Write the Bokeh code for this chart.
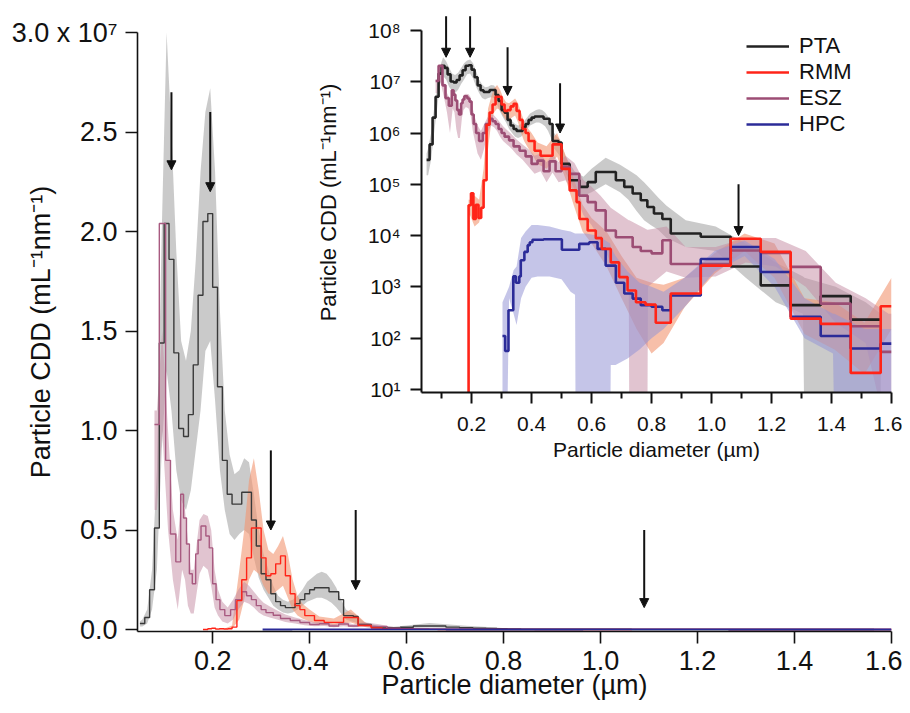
from bokeh.plotting import figure
from bokeh.models import (Range1d, FixedTicker, CustomJSTickFormatter, Arrow, NormalHead,
                          ColumnDataSource, Legend, LegendItem)
from bokeh.layouts import column
from bokeh.embed import file_html
from bokeh.resources import INLINE

FONT = "Liberation Sans"

# ---------------- data (particle CDD, mL^-1 nm^-1) ----------------
pta_edges = [0.05, 0.06, 0.07, 0.08, 0.09, 0.10, 0.11, 0.12, 0.13, 0.14, 0.15, 0.16, 0.17, 0.18, 0.19,
             0.20, 0.21, 0.22, 0.23, 0.24, 0.25, 0.26, 0.27, 0.28, 0.29, 0.30, 0.31, 0.32, 0.33, 0.34,
             0.35, 0.36, 0.37, 0.38, 0.39, 0.40, 0.41, 0.42, 0.43, 0.44, 0.45, 0.46, 0.47, 0.48, 0.49,
             0.50, 0.527, 0.56, 0.587, 0.614, 0.681, 0.709, 0.737, 0.764, 0.786, 0.808, 0.836, 0.864,
             0.964, 1.064, 1.164, 1.264, 1.364, 1.464, 1.564]
pta_vals = [3.0e5, 6.0e5, 2.0e6, 5.1e6, 1.44e7, 2.04e7, 1.86e7, 1.39e7, 1.01e7, 9.7e6,
            1.08e7, 1.33e7, 1.68e7, 2.05e7, 2.09e7, 1.72e7, 1.22e7, 8.5e6, 6.8e6, 6.3e6,
            6.3e6, 6.9e6, 6.9e6, 5.5e6, 4.2e6, 2.8e6, 2.5e6, 1.8e6, 1.4e6, 1.2e6,
            1.1e6, 1.1e6, 1.3e6, 1.5e6, 1.8e6, 2.0e6, 2.1e6, 2.1e6, 2.1e6, 1.9e6,
            1.9e6, 1.5e6, 7.0e5, 7.0e5, 6.5e5,
            2.5e5, 1.2e5, 8.9e4, 1.1e5, 1.74e5, 1.2e5, 8.9e4, 6.6e4, 4.9e4, 3.6e4,
            2.7e4, 2.1e4, 1.1e4, 9.5e3, 2.5e3, 1.07e3, 4.4e2, 6.6e2, 2.3e2]
pta_band_x = [0.05, 0.055, 0.065, 0.075, 0.085, 0.095, 0.105, 0.115, 0.125, 0.135,
              0.145, 0.155, 0.165, 0.175, 0.185, 0.195, 0.205, 0.215, 0.225, 0.235,
              0.245, 0.255, 0.265, 0.275, 0.285, 0.295, 0.305, 0.315, 0.325, 0.335,
              0.345, 0.355, 0.365, 0.375, 0.385, 0.395, 0.405, 0.415, 0.425, 0.435,
              0.445, 0.455, 0.465, 0.475, 0.485, 0.495,
              0.513, 0.543, 0.573, 0.60, 0.647, 0.695, 0.723, 0.75, 0.775, 0.797,
              0.822, 0.85, 0.914, 1.014, 1.114, 1.214, 1.305, 1.31, 1.414, 1.514, 1.564]
pta_band_lo = [1.5e5, 1.5e5, 3e5, 1.0e6, 3.0e6, 9e6, 1.3e7, 1.1e7, 8e6, 6.5e6,
               6e6, 7e6, 9e6, 1.1e7, 1.4e7, 1.45e7, 1.15e7, 8e6, 6e6, 4.8e6,
               4.5e6, 4.8e6, 5e6, 4.8e6, 3.6e6, 2.6e6, 2e6, 1.6e6, 1.2e6, 1.0e6,
               8.5e5, 8e5, 8.5e5, 1.0e6, 1.2e6, 1.4e6, 1.5e6, 1.6e6, 1.6e6, 1.5e6,
               1.35e6, 1.1e6, 8e5, 5e5, 4.2e5, 3.5e5,
               1.7e5, 8e4, 6e4, 7e4, 1.0e5, 7e4, 5e4, 3e4, 2e4, 1.6e4,
               1.3e4, 9e3, 6e3, 5e3, 1.5e3, 5e2, 3e2, 1, 1, 1, 1]
pta_band_hi = [4e5, 5e5, 1.0e6, 3.0e6, 8e6, 2.0e7, 3.0e7, 2.5e7, 1.9e7, 1.45e7,
               1.35e7, 1.5e7, 1.85e7, 2.3e7, 2.6e7, 2.72e7, 2.3e7, 1.6e7, 1.1e7, 8.8e6,
               7.8e6, 8e6, 8.6e6, 8.4e6, 6.8e6, 5e6, 3.8e6, 3e6, 2.2e6, 1.7e6,
               1.5e6, 1.4e6, 1.5e6, 1.7e6, 2.0e6, 2.4e6, 2.6e6, 2.8e6, 2.9e6, 2.8e6,
               2.5e6, 2.1e6, 1.5e6, 1.0e6, 8.5e5, 7.5e5,
               3.5e5, 1.8e5, 1.4e5, 2e5, 3.3e5, 2.4e5, 1.9e5, 1.5e5, 1.1e5, 8e4,
               5.5e4, 3.8e4, 2e4, 1.5e4, 7e3, 3e3, 1.6e3, 1.5e3, 1.0e3, 5e2, 3e2]

rmm_edges = [0.18, 0.19, 0.198, 0.206, 0.214, 0.223, 0.232, 0.24, 0.25, 0.26,
             0.27, 0.28, 0.30, 0.31, 0.32, 0.33, 0.34, 0.35, 0.36, 0.37,
             0.38, 0.39, 0.41, 0.43, 0.47, 0.50, 0.527, 0.55, 0.56, 0.587,
             0.614, 0.634, 0.664, 0.692, 0.72, 0.748, 0.78, 0.814, 0.864, 0.964,
             1.064, 1.164, 1.264, 1.364, 1.464, 1.564, 1.60]
rmm_vals = [0.0, 3.9e4, 6.7e4, 2.1e4, 4.0e4, 2.2e4, 3.5e4, 1.2e5, 1.45e6, 2.5e6,
            3.6e6, 5.1e6, 3.6e6, 2.7e6, 2.8e6, 3.3e6, 3.7e6, 2.7e6, 1.8e6, 1.2e6,
            1.0e6, 7.0e5, 4.5e5, 3.6e5, 6.0e5, 2.0e5, 7.6e4, 4.5e4, 2.1e4, 1.26e4,
            8.9e3, 5.5e3, 3.0e3, 1.55e3, 8.5e2, 5.0e2, 4.5e2, 2.0e2, 7.4e2, 2.6e3,
            8.7e3, 4.8e3, 2.4e2, 1.9e2, 2.1e1, 4.2e2]
rmm_band_x = [0.19, 0.195, 0.21, 0.225, 0.24, 0.255, 0.265, 0.275, 0.285, 0.295,
              0.305, 0.315, 0.325, 0.335, 0.345, 0.355, 0.365, 0.375, 0.385, 0.40,
              0.42, 0.45, 0.485, 0.515, 0.54, 0.57, 0.60, 0.65, 0.70, 0.75,
              0.80, 0.84, 0.91, 1.01, 1.11, 1.21, 1.31, 1.41, 1.51, 1.60]
rmm_band_lo = [2.5e4, 2.5e4, 1.5e4, 1.8e4, 4e4, 5e5, 1.5e6, 2.5e6, 3e6, 2.8e6,
               2.2e6, 1.8e6, 1.8e6, 2e6, 2.2e6, 1.6e6, 1.0e6, 7e5, 5.5e5, 4e5,
               2.5e5, 2e5, 3.5e5, 1.2e5, 4e4, 1.2e4, 7e3, 2.5e3, 6e2, 1.5e2,
               5e1, 8e1, 4e2, 1.8e3, 5e3, 1.5e3, 1.2e2, 6e1, 2e1, 1.5e2]
rmm_band_hi = [5e4, 5e4, 6e4, 5e4, 2e5, 3e6, 5e6, 7.5e6, 8.6e6, 7e6,
               5e6, 4e6, 3.8e6, 4.2e6, 4.7e6, 3.8e6, 2.5e6, 1.7e6, 1.3e6, 1.0e6,
               6.5e5, 5.5e5, 1.0e6, 3.5e5, 1.3e5, 4e4, 2.2e4, 1.2e4, 4e3, 1.5e3,
               1.2e3, 1.1e3, 1.5e3, 4.5e3, 1.1e4, 7e3, 6e2, 5e2, 2e2, 1.5e3]

esz_edges = [0.08, 0.09, 0.103, 0.113, 0.124, 0.134, 0.14, 0.146, 0.152, 0.158,
             0.165, 0.17, 0.176, 0.186, 0.193, 0.20, 0.207, 0.215, 0.225, 0.237,
             0.247, 0.26, 0.27, 0.28, 0.29, 0.30, 0.31, 0.325, 0.34, 0.36,
             0.38, 0.40, 0.42, 0.44, 0.46, 0.48, 0.50,
             0.527, 0.559, 0.587, 0.614, 0.647, 0.681, 0.737, 0.764, 0.80, 0.836,
             0.864, 0.964, 1.064, 1.164, 1.264, 1.364, 1.464, 1.564, 1.60]
esz_vals = [1.03e7, 2.04e7, 8.5e6, 4.8e6, 3.4e6, 6.8e6, 5.6e6, 4.3e6, 2.8e6, 2.3e6,
            3.8e6, 4.5e6, 5.2e6, 4.7e6, 4.1e6, 2.3e6, 1.5e6, 1.0e6, 7.0e5, 1.0e6,
            1.5e6, 1.9e6, 1.7e6, 1.5e6, 1.2e6, 1.0e6, 8.5e5, 7.2e5, 5.5e5, 4.5e5,
            3.5e5, 2.5e5, 2.9e5, 1.8e5, 2.8e5, 1.8e5,
            2.2e5, 1.6e5, 6.0e4, 4.5e4, 3.1e4, 1.26e4, 9.3e3, 6.0e3, 5.0e3, 4.5e3,
            8.1e3, 2.8e3, 2.8e3, 5.1e3, 4.6e3, 2.45e3, 4.7e2, 1.7e2, 5.4e1]
esz_band_x = [0.08, 0.085, 0.096, 0.108, 0.118, 0.128, 0.137, 0.143, 0.149, 0.155,
              0.161, 0.168, 0.173, 0.181, 0.19, 0.197, 0.204, 0.211, 0.22, 0.231,
              0.242, 0.253, 0.265, 0.275, 0.285, 0.295, 0.305, 0.318, 0.333, 0.35,
              0.37, 0.39, 0.41, 0.43, 0.45, 0.47, 0.49, 0.513, 0.543, 0.573,
              0.60, 0.63, 0.664, 0.70, 0.724, 0.726, 0.786, 0.788, 0.85, 0.914,
              1.014, 1.114, 1.214, 1.314, 1.414, 1.514, 1.59, 1.6]
esz_band_lo = [6e6, 6e6, 1.0e7, 5e6, 2.5e6, 1.0e6, 3e6, 2.5e6, 1.2e6, 8e5,
               8e5, 2e6, 2.8e6, 3.2e6, 3e6, 2.2e6, 1.1e6, 7e5, 4e5, 3e5,
               5e5, 1.0e6, 1.4e6, 1.3e6, 1.1e6, 8.5e5, 7e5, 6e5, 5e5, 3.8e5,
               3e5, 2.2e5, 1.6e5, 1.8e5, 1.1e5, 1.7e5, 1.1e5, 1.2e5, 7e4, 2.5e4,
               1.6e4, 8e3, 3e3, 1.5e3, 1.2e3, 1, 1, 1e3, 2e3, 1.5e3,
               1.6e3, 3e3, 2.5e3, 1e3, 2e2, 8e1, 1, 1]
esz_band_hi = [1.1e7, 1.1e7, 1.5e7, 1.0e7, 6e6, 4.5e6, 7e6, 6e6, 4.5e6, 3e6,
               3e6, 4.5e6, 5.5e6, 5.8e6, 5.7e6, 5e6, 3e6, 2e6, 1.4e6, 1.1e6,
               1.5e6, 2e6, 2.4e6, 2.2e6, 1.9e6, 1.6e6, 1.35e6, 1.15e6, 9.5e5, 7.5e5,
               6e5, 4.8e5, 3.6e5, 4e5, 2.7e5, 3.9e5, 2.7e5, 3.6e5, 2.6e5, 1.2e5,
               9e4, 6e4, 3.5e4, 2.5e4, 2e4, 2e4, 1.3e4, 1.3e4, 1.5e4, 6e3,
               6e3, 9e3, 9e3, 5e3, 1.2e3, 6e2, 3e2, 3e2]

hpc_edges = [0.303, 0.312, 0.323, 0.339, 0.348, 0.359, 0.364, 0.376, 0.387, 0.394,
             0.403, 0.44, 0.501, 0.559, 0.592, 0.62, 0.647, 0.681, 0.709, 0.737,
             0.764, 0.80, 0.836, 0.864, 0.964, 1.064, 1.164, 1.264, 1.364, 1.464,
             1.564, 1.60]
hpc_vals = [1.1e2, 5.6e1, 3.5e2, 1.6e3, 1.2e3, 1.6e3, 3.3e3, 4.8e3, 6.5e3, 7.4e3,
            8.3e3, 8.5e3, 5.3e3, 6.9e3, 7.4e3, 5.5e3, 2.6e3, 1.2e3, 7.4e2, 5.9e2,
            4.4e2, 4.1e2, 3.5e2, 6.8e2, 3.5e3, 6.0e3, 1.95e3, 2.6e2, 1.1e2, 6.3e1,
            7.8e1]
hpc_band_x = [0.303, 0.318, 0.325, 0.34, 0.35, 0.365, 0.38, 0.40, 0.42, 0.46,
              0.50, 0.53, 0.545, 0.547, 0.58, 0.62, 0.662, 0.664, 0.68, 0.72,
              0.76, 0.80, 0.84, 0.91, 1.01, 1.11, 1.21, 1.31, 1.405, 1.41,
              1.51, 1.6]
hpc_band_lo = [1, 1, 6e2, 3e2, 1.8e2, 6e2, 1.0e3, 1.5e3, 1.6e3, 1.6e3,
               1.4e3, 8e2, 7e2, 1, 1, 1, 1, 3e1, 3e1, 4e1,
               6e1, 1e2, 1.5e2, 4e2, 2e3, 4e3, 1e3, 1e2, 5e1, 1,
               1, 1]
hpc_band_hi = [5e2, 8e2, 1.0e3, 2.1e3, 2.5e3, 9e3, 1.2e4, 1.6e4, 1.6e4, 1.5e4,
               1.3e4, 1.2e4, 1.1e4, 1.1e4, 1.1e4, 1.0e4, 7e3, 6e3, 4e3, 2e3,
               1.2e3, 1e3, 8e2, 1.5e3, 5e3, 8e3, 3.5e3, 6e2, 3e2, 3e2,
               1.5e2, 1.5e2]

# arrows marking the size modes
arrow_x = [0.115, 0.195, 0.32, 0.495, 1.09]
main_arrow_top = [2.7e7, 2.6e7, 0.9e7, 0.6e7, 0.5e7]
main_arrow_tip = [2.31e7, 2.2e7, 0.5e7, 0.2e7, 0.11e7]
inset_arrow_top = [1.9e8, 1.9e8, 4.7e7, 9.3e6, 1.0e5]
inset_arrow_tip = [3.0e7, 3.0e7, 5.4e6, 1.0e6, 1.0e4]

main_xticks = [0.2, 0.4, 0.6, 0.8, 1.0, 1.2, 1.4, 1.6]
main_yticks = [0.0, 0.5, 1.0, 1.5, 2.0, 2.5, 3.0]
inset_xticks = [0.2, 0.4, 0.6, 0.8, 1.0, 1.2, 1.4, 1.6]
inset_xminor = [0.1, 0.3, 0.5, 0.7, 0.9, 1.1, 1.3, 1.5]
inset_yticks = [1e1, 1e2, 1e3, 1e4, 1e5, 1e6, 1e7, 1e8]

SCALE = 1e7

series = [
    ("PTA", pta_edges, pta_vals, pta_band_x, pta_band_lo, pta_band_hi, "#222222", "#3a3a3a", "#b4b4b4", 0.7),
    ("RMM", rmm_edges, rmm_vals, rmm_band_x, rmm_band_lo, rmm_band_hi, "#ff2418", "#ff2418", "#f29570", 0.6),
    ("ESZ", esz_edges, esz_vals, esz_band_x, esz_band_lo, esz_band_hi, "#9c4d74", "#a85a80", "#c48aa2", 0.5),
    ("HPC", hpc_edges, hpc_vals, hpc_band_x, hpc_band_lo, hpc_band_hi, "#2b2b98", "#2b2b98", "#9595d6", 0.55),
]


def step_xy(edges, vals, scale=1.0, floor=None):
    ys = [v / scale for v in vals] + [vals[-1] / scale]
    if floor is not None:
        ys = [max(y, floor) for y in ys]
    return list(edges), ys


def style_axis(ax, fs, lw, tick_out, lab_standoff, axlab_standoff):
    ax.axis_line_width = lw
    ax.axis_line_color = "#111111"
    ax.major_tick_line_width = lw
    ax.major_tick_line_color = "#111111"
    ax.minor_tick_line_width = lw
    ax.minor_tick_line_color = "#111111"
    ax.major_tick_in = 0
    ax.major_tick_out = tick_out
    ax.minor_tick_in = 0
    ax.minor_tick_out = 0
    ax.major_label_text_font = FONT
    ax.major_label_text_font_size = fs
    ax.major_label_text_color = "#111111"
    ax.axis_label_text_font = FONT
    ax.axis_label_text_font_size = fs
    ax.axis_label_text_font_style = "normal"
    ax.axis_label_text_color = "#111111"
    ax.major_label_standoff = lab_standoff
    ax.axis_label_standoff = axlab_standoff


TOTAL_W = 902

# ---------------- inset (log) ----------------
INSET_LEFT = 284
INSET_H = 474
pi = figure(width=TOTAL_W - INSET_LEFT, height=INSET_H, x_range=Range1d(0.033, 1.6),
            y_range=Range1d(10 ** 0.94, 10 ** 8.35), y_axis_type="log",
            output_backend="svg", toolbar_location=None,
            min_border_left=135, min_border_right=11, min_border_top=12, min_border_bottom=82)
pi.outline_line_color = None
pi.grid.visible = False
pi.background_fill_alpha = 0
pi.border_fill_alpha = 0

for name, e, v, bx, lo, hi, lc, lc_main, fc, fa in series:
    pi.varea(x=bx, y1=[max(a, 1e-3) for a in lo], y2=hi, fill_color=fc, fill_alpha=fa)

inset_lines = {}
for name in ["PTA", "ESZ", "HPC", "RMM"]:
    s = [t for t in series if t[0] == name][0]
    xs, ys = step_xy(s[1], s[2], floor=1e-3)
    inset_lines[name] = pi.step(x=xs, y=ys, mode="after", line_color=s[6], line_width=2.6)

pi.add_layout(Arrow(source=ColumnDataSource(dict(x=arrow_x, y0=inset_arrow_top, y1=inset_arrow_tip)),
                    x_start="x", y_start="y0", x_end="x", y_end="y1", line_width=2, line_color="#111111",
                    end=NormalHead(size=9, fill_color="#111111", line_color="#111111")))

style_axis(pi.xaxis[0], "21px", 2, 11, 13, 4)
pi.xaxis[0].minor_tick_out = 6
pi.xaxis[0].ticker = FixedTicker(ticks=inset_xticks, minor_ticks=inset_xminor)
pi.xaxis[0].formatter = CustomJSTickFormatter(code="return tick.toFixed(1);")
pi.xaxis[0].axis_label = "Particle diameter (µm)"

style_axis(pi.yaxis[0], "21px", 2, 11, 10, 24)
pi.yaxis[0].ticker = FixedTicker(ticks=inset_yticks, minor_ticks=[])
pi.yaxis[0].formatter = CustomJSTickFormatter(
    code="const s = ['⁰','¹','²','³','⁴','⁵','⁶','⁷','⁸','⁹']; return '10' + s[Math.round(Math.log10(tick))];")
pi.yaxis[0].axis_label = "Particle CDD (mL⁻¹nm⁻¹)"
pi.yaxis[0].axis_label_text_font_size = "22px"
pi.yaxis[0].bounds = (10 ** 0.94, 1e8)

legend = Legend(items=[LegendItem(label=n, renderers=[inset_lines[n]]) for n in ["PTA", "RMM", "ESZ", "HPC"]],
                location=(325, 255), glyph_width=43, glyph_height=26, label_height=26,
                label_standoff=10, spacing=0, padding=0, margin=0,
                border_line_alpha=0, background_fill_alpha=0,
                label_text_font=FONT, label_text_font_size="22px", label_text_color="#111111")
pi.add_layout(legend)

# ---------------- main (linear) ----------------
pm = figure(width=TOTAL_W, height=705, x_range=Range1d(0.045, 1.6), y_range=Range1d(-0.01, 3.0),
            output_backend="svg", toolbar_location=None,
            min_border_left=137, min_border_right=11, min_border_top=32, min_border_bottom=74)
pm.outline_line_color = None
pm.grid.visible = False
pm.background_fill_alpha = 0
pm.border_fill_alpha = 0

for name, e, v, bx, lo, hi, lc, lc_main, fc, fa in series:
    pm.varea(x=bx, y1=[a / SCALE for a in lo], y2=[a / SCALE for a in hi], fill_color=fc, fill_alpha=fa)
for name in ["PTA", "ESZ", "RMM", "HPC"]:
    s = [t for t in series if t[0] == name][0]
    xs, ys = step_xy(s[1], s[2], scale=SCALE)
    pm.step(x=xs, y=ys, mode="after", line_color=s[7], line_width=1.4 if name != "HPC" else 1.8)

pm.add_layout(Arrow(source=ColumnDataSource(dict(x=arrow_x, y0=[a / SCALE for a in main_arrow_top],
                                                 y1=[a / SCALE for a in main_arrow_tip])),
                    x_start="x", y_start="y0", x_end="x", y_end="y1", line_width=2, line_color="#111111",
                    end=NormalHead(size=9, fill_color="#111111", line_color="#111111")))

style_axis(pm.xaxis[0], "27px", 1.6, 12, 7, -3)
pm.xaxis[0].ticker = FixedTicker(ticks=main_xticks, minor_ticks=[])
pm.xaxis[0].formatter = CustomJSTickFormatter(code="return tick.toFixed(1);")
pm.xaxis[0].axis_label = "Particle diameter (µm)"

style_axis(pm.yaxis[0], "27px", 1.6, 12, 8, -47)
pm.yaxis[0].ticker = FixedTicker(ticks=main_yticks, minor_ticks=[])
pm.yaxis[0].formatter = CustomJSTickFormatter(
    code="return (tick > 2.99) ? '3.0 x 10⁷' : tick.toFixed(1);")
pm.yaxis[0].axis_label = "Particle CDD (mL⁻¹nm⁻¹)"

pi.margin = (0, 0, 0, INSET_LEFT)
pm.margin = (-INSET_H, 0, 0, 0)
p = column(pi, pm)

open("out.html", "w").write(file_html(p, INLINE))
